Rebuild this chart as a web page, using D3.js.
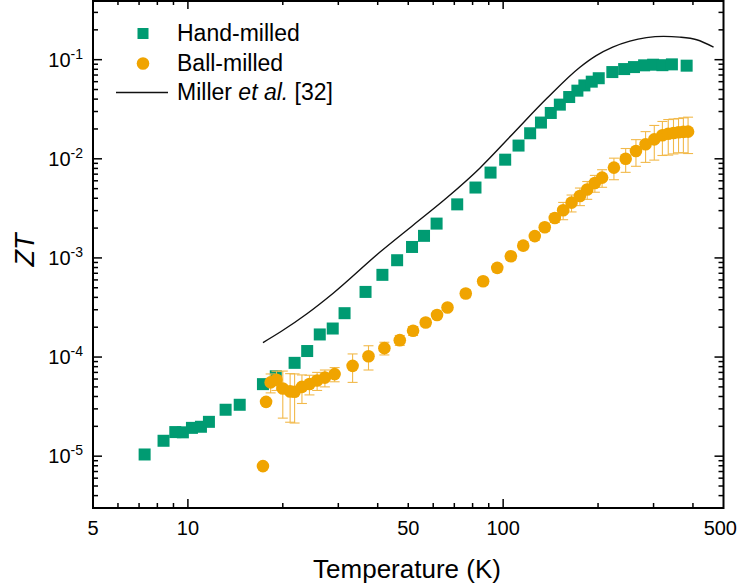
<!DOCTYPE html>
<html>
<head>
<meta charset="utf-8">
<script src="https://cdn.jsdelivr.net/npm/d3@7"></script>
<style>
body { margin: 0; background: #fff; }
svg { display: block; font-family: "Liberation Sans", Arial, sans-serif; }
</style>
</head>
<body>
<svg width="738" height="588"></svg>
<script>
// hand-milled (squares)
var handT = [7.29, 8.37, 9.12, 9.64, 10.3, 11.0, 11.66, 13.17, 14.6, 17.3, 19.0, 21.8, 23.9, 26.2, 28.8, 31.4, 36.6,
    41.4, 46.1, 51.4, 56.1, 61.5, 71.5, 81.7, 91.2, 101.5, 111.9, 121.8, 131.8, 141.6, 151.3, 162, 172, 181, 191,
    201, 222, 242, 260, 280, 299, 320, 343, 382];
var handZT = [1.04e-5, 1.43e-5, 1.75e-5, 1.74e-5, 1.93e-5, 1.98e-5, 2.22e-5, 2.94e-5, 3.30e-5, 5.33e-5, 6.4e-5, 8.74e-5,
    1.15e-4, 1.69e-4, 1.94e-4, 2.77e-4, 4.54e-4, 6.75e-4, 9.48e-4, 1.29e-3, 1.67e-3, 2.22e-3, 3.47e-3, 5.13e-3, 7.26e-3,
    9.8e-3, 1.36e-2, 1.81e-2, 2.32e-2, 2.90e-2, 3.52e-2, 4.20e-2, 4.87e-2, 5.5e-2, 6.0e-2, 6.5e-2, 7.5e-2, 8.04e-2,
    8.42e-2, 8.77e-2, 8.9e-2, 8.8e-2, 8.97e-2, 8.7e-2];

// ball-milled (circles) with error
var ballT = [17.3, 17.7, 18.3, 19.1, 20.0, 21.1, 21.8, 23.0, 24.3, 25.7, 27.2, 29.2, 33.3, 37.4, 42.0, 47.0, 51.8, 56.8,
    61.7, 66.6, 76.1, 86.4, 95.8, 105.8, 115.8, 126, 135.5, 145.8, 155, 164.8, 175.2, 184.8, 195.4, 206, 224.6, 244.7,
    263.8, 283, 301.6, 320, 334, 347, 360, 373, 386];
var ballZT = [7.94e-6, 3.53e-5, 5.55e-5, 5.9e-5, 4.82e-5, 4.5e-5, 4.46e-5, 5.0e-5, 5.35e-5, 5.8e-5, 6.2e-5, 6.73e-5,
    8.15e-5, 1.02e-4, 1.23e-4, 1.48e-4, 1.84e-4, 2.23e-4, 2.66e-4, 3.16e-4, 4.37e-4, 5.82e-4, 7.94e-4, 1.04e-3, 1.33e-3,
    1.66e-3, 2.04e-3, 2.53e-3, 3.03e-3, 3.61e-3, 4.22e-3, 4.9e-3, 5.7e-3, 6.46e-3, 8.15e-3, 1.0e-2, 1.2e-2, 1.4e-2,
    1.57e-2, 1.73e-2, 1.79e-2, 1.82e-2, 1.85e-2, 1.87e-2, 1.88e-2];
var ballErr = [0, 0, 1.2e-5, 1.3e-5, 2.4e-5, 2.3e-5, 2.3e-5, 1.6e-5, 1.2e-5, 1.2e-5, 1.2e-5, 1.1e-5, 2.6e-5, 2.8e-5,
    1.8e-5, 1.7e-5, 1.9e-5, 2.0e-5, 2.0e-5, 2.0e-5, 4e-5, 5e-5, 7e-5, 9e-5, 1.2e-4, 1.5e-4, 1.9e-4, 2.5e-4, 6e-4, 7e-4,
    8.5e-4, 1e-3, 1.1e-3, 1.3e-3, 2.0e-3, 2.7e-3, 3.6e-3, 4.8e-3, 6e-3, 6.5e-3, 7e-3, 7e-3, 7e-3, 7.2e-3, 7.5e-3];

// Miller et al. [32]
var millerT = [17.3, 19.8, 23.8, 28.9, 40.6, 51.8, 66.1, 84.3, 107, 137.4, 175.2, 197.3, 222.6, 252.3, 284.8,
    322.8, 363, 411, 465];
var millerZT = [1.40e-4, 1.82e-4, 2.72e-4, 4.41e-4, 1.14e-3, 2.14e-3, 4.02e-3, 8.05e-3, 1.77e-2, 4.05e-2, 8.4e-2,
    0.110, 0.134, 0.154, 0.167, 0.172, 0.169, 0.159, 0.134];

var xTickLabels = [5, 10, 50, 100, 500];
var yTickLabels = [-5, -4, -3, -2, -1];

var green = "#009B72";
var orange = "#F0A400";

var svg = d3.select("svg");

var x = d3.scaleLog().domain([5, 500]).range([93, 723.5]);
var y = d3.scaleLog().domain([3e-6, 0.4]).range([508, 0]);

var xLeft = x.range()[0], xRight = x.range()[1];
var yTop = y.range()[1], yBot = y.range()[0];

// minor / major ticks, all pointing inwards on four sides
var xMinor = [], yMinor = [];
[1, 10, 100].forEach(function(d) {
    for (var k = 2; k <= 9; k++) {
        var v = d * k;
        if (v > 5 && v < 500 && v !== 10 && v !== 100) xMinor.push(v);
    }
});
[1e-6, 1e-5, 1e-4, 1e-3, 1e-2, 1e-1].forEach(function(d) {
    for (var k = 2; k <= 9; k++) {
        var v = d * k;
        if (v > 3e-6 && v < 0.4) yMinor.push(v);
    }
});
var xMajor = [10, 100];
var yMajor = yTickLabels.map(function(e) { return Math.pow(10, e); });

var ticks = svg.append("g").attr("stroke", "#000").attr("stroke-width", 1.5);

var addX = function(vals, len) {
    vals.forEach(function(v) {
        ticks.append("line").attr("x1", x(v)).attr("x2", x(v)).attr("y1", yBot).attr("y2", yBot - len);
        ticks.append("line").attr("x1", x(v)).attr("x2", x(v)).attr("y1", yTop).attr("y2", yTop + len);
    });
};
var addY = function(vals, len) {
    vals.forEach(function(v) {
        ticks.append("line").attr("y1", y(v)).attr("y2", y(v)).attr("x1", xLeft).attr("x2", xLeft + len);
        ticks.append("line").attr("y1", y(v)).attr("y2", y(v)).attr("x1", xRight).attr("x2", xRight - len);
    });
};
addX(xMinor, 5);
addX(xMajor, 9);
addY(yMinor, 5);
addY(yMajor, 9);

// Miller line
var line = d3.line()
        .x(function(d) { return x(d[0]); })
        .y(function(d) { return y(d[1]); })
        .curve(d3.curveMonotoneX);

svg.append("path")
        .datum(millerT.map(function(t, i) { return [t, millerZT[i]]; }))
        .attr("d", line)
        .attr("fill", "none")
        .attr("stroke", "#111")
        .attr("stroke-width", 1.4);

// hand-milled squares
var hand = handT.map(function(t, i) { return {t: t, z: handZT[i]}; });
svg.append("g").selectAll("rect")
        .data(hand)
        .enter()
        .append("rect")
        .attr("x", function(d) { return x(d.t) - 6; })
        .attr("y", function(d) { return y(d.z) - 6; })
        .attr("width", 12)
        .attr("height", 12)
        .style("fill", green);

// ball-milled error bars + circles
var ball = ballT.map(function(t, i) { return {t: t, z: ballZT[i], e: ballErr[i]}; });
var eb = svg.append("g")
        .attr("stroke", "#F2B94A")
        .attr("stroke-width", 1.1)
        .selectAll("g")
        .data(ball.filter(function(d) { return d.e > 0; }))
        .enter()
        .append("g");

eb.append("line")
        .attr("x1", function(d) { return x(d.t); })
        .attr("x2", function(d) { return x(d.t); })
        .attr("y1", function(d) { return y(d.z + d.e); })
        .attr("y2", function(d) { return y(d.z - d.e); });
eb.append("line")
        .attr("x1", function(d) { return x(d.t) - 5; })
        .attr("x2", function(d) { return x(d.t) + 5; })
        .attr("y1", function(d) { return y(d.z + d.e); })
        .attr("y2", function(d) { return y(d.z + d.e); });
eb.append("line")
        .attr("x1", function(d) { return x(d.t) - 5; })
        .attr("x2", function(d) { return x(d.t) + 5; })
        .attr("y1", function(d) { return y(d.z - d.e); })
        .attr("y2", function(d) { return y(d.z - d.e); });

svg.append("g").selectAll("circle")
        .data(ball)
        .enter()
        .append("circle")
        .attr("cx", function(d) { return x(d.t); })
        .attr("cy", function(d) { return y(d.z); })
        .attr("r", 6.3)
        .style("fill", orange);

// frame
svg.append("rect")
        .attr("x", xLeft)
        .attr("y", yTop + 1)
        .attr("width", xRight - xLeft)
        .attr("height", yBot - yTop - 1)
        .attr("fill", "none")
        .attr("stroke", "#000")
        .attr("stroke-width", 2);

// tick labels
svg.append("g").selectAll("text")
        .data(xTickLabels)
        .enter()
        .append("text")
        .attr("x", function(d, i) { return i === xTickLabels.length - 1 ? 737 : x(d); })
        .attr("y", 535)
        .attr("text-anchor", function(d, i) { return i === xTickLabels.length - 1 ? "end" : "middle"; })
        .style("font-size", "20px")
        .text(function(d) { return d; });

var yl = svg.append("g").selectAll("text")
        .data(yTickLabels)
        .enter()
        .append("text")
        .attr("x", 83)
        .attr("y", function(d) { return y(Math.pow(10, d)) + 7; })
        .attr("text-anchor", "end")
        .style("font-size", "20px");
yl.append("tspan").text("10");
yl.append("tspan")
        .attr("dy", -8)
        .style("font-size", "14px")
        .text(function(d) { return d; });

// axis titles
svg.append("text")
        .attr("x", 407)
        .attr("y", 578)
        .attr("text-anchor", "middle")
        .style("font-size", "26px")
        .text("Temperature (K)");

svg.append("text")
        .attr("transform", "translate(34,250) rotate(-90)")
        .attr("text-anchor", "middle")
        .style("font-size", "27px")
        .style("font-style", "italic")
        .text("ZT");

// legend
var lg = svg.append("g").style("font-size", "23px");
lg.append("rect").attr("x", 137.5).attr("y", 28).attr("width", 11).attr("height", 11).style("fill", green);
lg.append("text").attr("x", 177).attr("y", 41).text("Hand-milled");
lg.append("circle").attr("cx", 143).attr("cy", 63.5).attr("r", 6.3).style("fill", orange);
lg.append("text").attr("x", 177).attr("y", 71).text("Ball-milled");
lg.append("line").attr("x1", 116).attr("x2", 168).attr("y1", 92.5).attr("y2", 92.5)
        .attr("stroke", "#111").attr("stroke-width", 1.4);
var mt = lg.append("text").attr("x", 177).attr("y", 100);
mt.append("tspan").text("Miller ");
mt.append("tspan").style("font-style", "italic").text("et al.");
mt.append("tspan").text(" [32]");
</script>
</body>
</html>
